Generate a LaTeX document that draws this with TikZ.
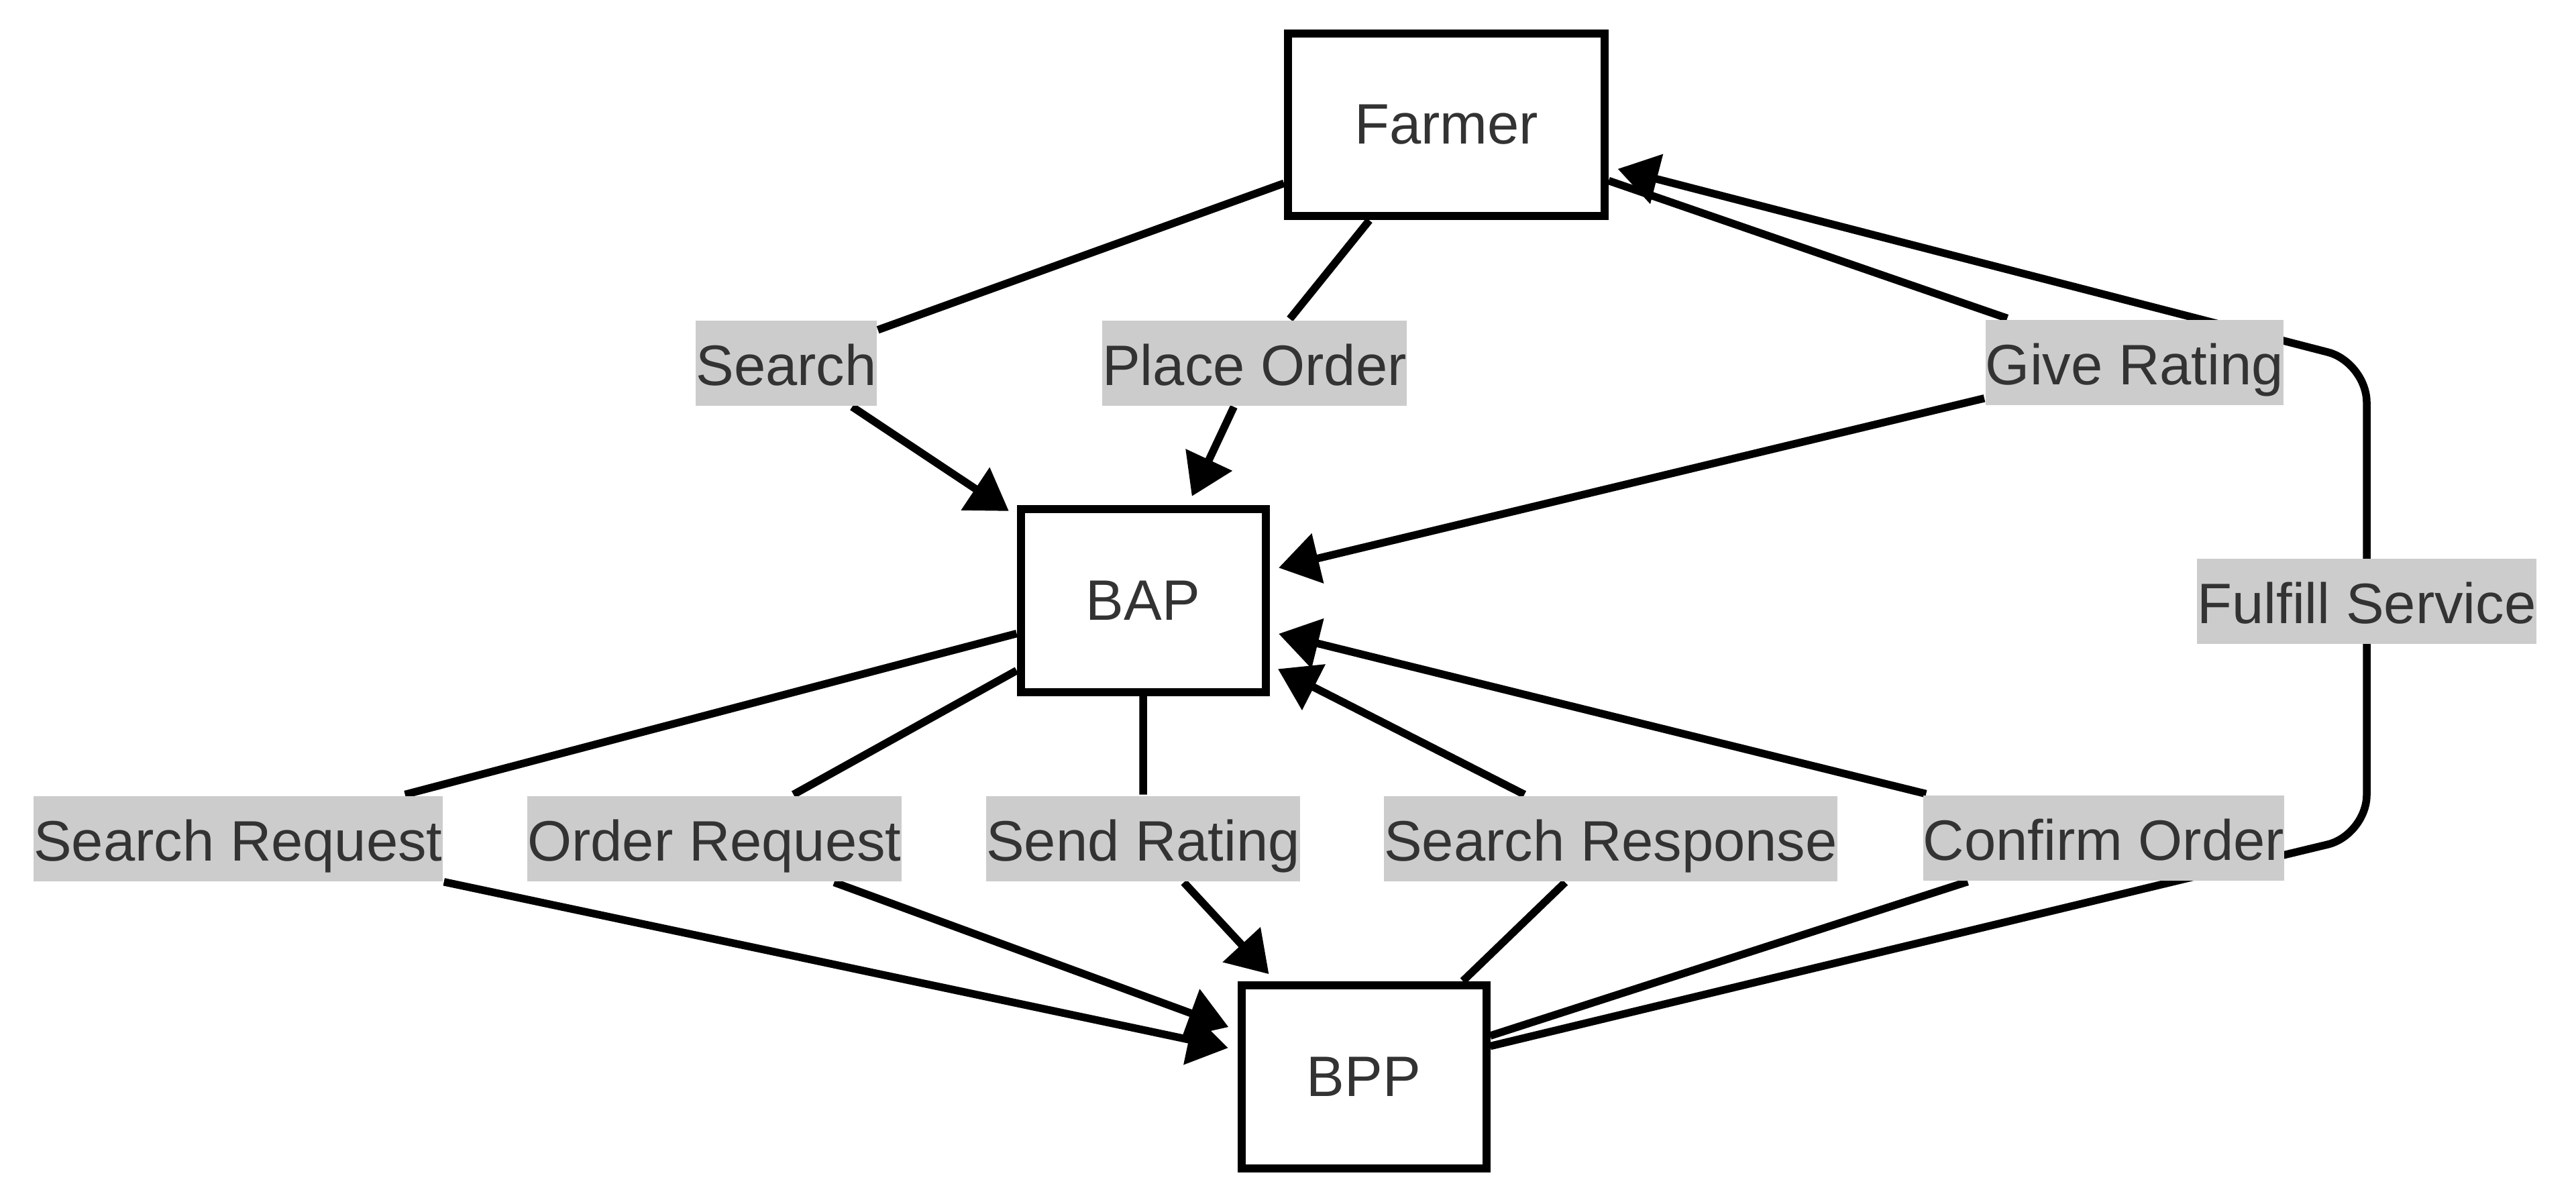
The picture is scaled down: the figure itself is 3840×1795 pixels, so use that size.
\documentclass[tikz,border=0pt]{standalone}
\usepackage{fontspec}
\setmainfont{Liberation Sans}
\usetikzlibrary{arrows.meta,shadows}
\definecolor{txt}{HTML}{333333}
\definecolor{lblbg}{HTML}{CCCCCC}
\pgfdeclarelayer{background}
\pgfsetlayers{background,main}
\begin{document}
\begin{tikzpicture}[x=0.1pt,y=-0.1pt,
  box/.style={draw=black, line width=1.2pt, fill=white, minimum height=27.3pt,
    inner sep=0pt, text=txt, font=\fontsize{8.5pt}{10pt}\selectfont,
    drop shadow={shadow xshift=0.3pt, shadow yshift=-0.6pt, opacity=0.1}},
  lbl/.style={fill=lblbg, inner xsep=0pt, inner ysep=0pt, minimum height=12.7pt,
    text height=0.87em, text depth=0.2em,
    text=txt, font=\fontsize{8.5pt}{10pt}\selectfont},
  edge/.style={draw=black, line width=1.15pt,
    -{Triangle[length=6pt,width=7.4pt]}, shorten >=1.4pt}]
\useasboundingbox (0,0) rectangle (3840,1795);

% nodes
\node[box, minimum width=47.2pt] (Farmer) at (2156,186) {Farmer};
\node[box, minimum width=36.5pt] (BAP) at (1704,895) {BAP};
\node[box, minimum width=36.5pt] (BPP) at (2033,1605) {BPP};

% edge labels
\node[lbl] (lSearch) at (1172,541) {Search};
\node[lbl] (lPlace) at (1870,541) {Place Order};
\node[lbl] (lGive) at (3182,540) {Give Rating};
\node[lbl] (lFulfill) at (3528,896) {Fulfill Service};
\node[lbl] (lSReq) at (355,1250) {Search Request};
\node[lbl] (lOReq) at (1065,1250) {Order Request};
\node[lbl] (lSend) at (1704,1250) {Send Rating};
\node[lbl] (lSResp) at (2401,1250) {Search Response};
\node[lbl] (lConf) at (3136,1249) {Confirm Order};

\coordinate (fs1) at (3528,1245);
\coordinate (fs2) at (3528,540);

\begin{pgfonlayer}{background}
\draw[edge] (Farmer) -- (lSearch) -- (BAP);
\draw[edge] (Farmer) -- (lPlace) -- (BAP);
\draw[edge] (Farmer) -- (lGive) -- (BAP);
\draw[edge] (BAP) -- (lSReq) -- (BPP);
\draw[edge] (BAP) -- (lOReq) -- (BPP);
\draw[edge] (BAP) -- (lSend) -- (BPP);
\draw[edge] (BPP) -- (lSResp) -- (BAP);
\draw[edge] (BPP) -- (lConf) -- (BAP);
\draw[edge, rounded corners=6pt] (BPP) -- (fs1) -- (fs2) -- (Farmer);
\end{pgfonlayer}
\end{tikzpicture}
\end{document}
